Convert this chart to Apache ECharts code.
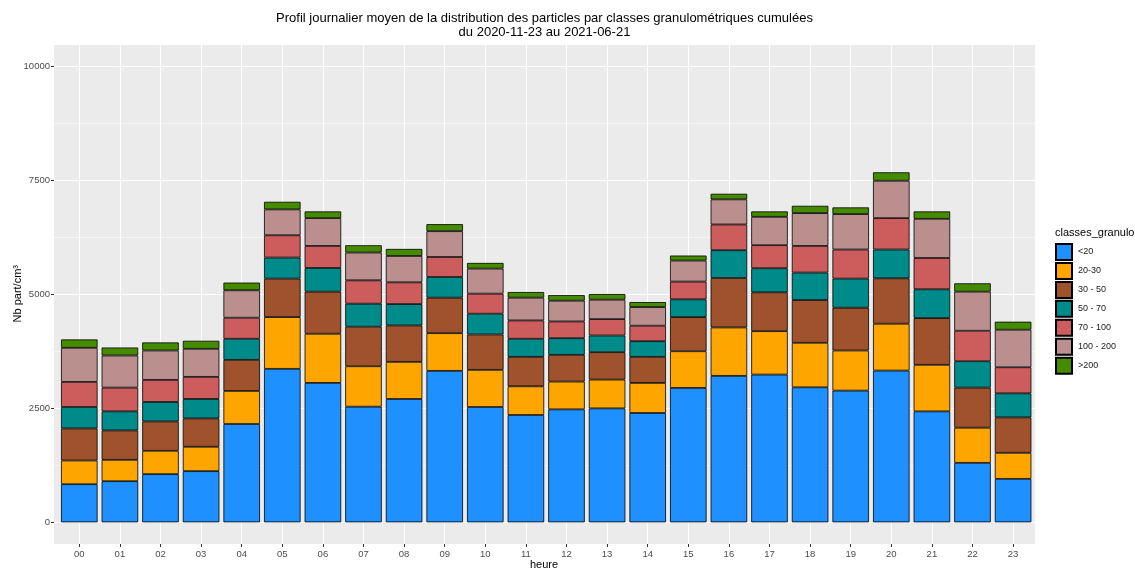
<!DOCTYPE html>
<html>
<head>
<meta charset="utf-8">
<script src="https://cdn.jsdelivr.net/npm/echarts@6/dist/echarts.min.js"></script>
<style>html,body{margin:0;padding:0;background:#fff}#c{width:1135px;height:569px}</style>
</head>
<body>
<div id="c"></div>
<script>
const hours = ['00','01','02','03','04','05','06','07','08','09','10','11','12','13','14','15','16','17','18','19','20','21','22','23'];
const classes = ['<20','20-30','30 - 50','50 - 70','70 - 100','100 - 200','>200'];
const colors = ['#1E90FF','#FFA500','#A0522D','#008B8B','#CD5C5C','#BC8F8F','#458B00'];
const yTicks = [0, 2500, 5000, 7500, 10000];

const lt20    = [835, 901, 1055, 1121, 2154, 3363, 3055, 2534, 2703, 3319, 2527, 2352, 2475, 2497, 2396, 2945, 3209, 3237, 2958, 2886, 3325, 2431, 1303, 952];
const c20_30  = [519, 468, 512, 534, 725, 1134, 1077, 886, 813, 826, 814, 628, 609, 630, 659, 804, 1061, 952, 976, 879, 1027, 1020, 770, 571];
const c30_50  = [703, 644, 644, 622, 681, 844, 923, 866, 798, 778, 775, 646, 586, 601, 571, 748, 1084, 851, 936, 938, 995, 1024, 879, 776];
const c50_70  = [470, 418, 426, 426, 462, 461, 519, 505, 468, 453, 455, 396, 365, 366, 343, 389, 609, 527, 603, 638, 631, 631, 578, 527];
const c70_100 = [550, 521, 484, 484, 461, 488, 483, 512, 477, 439, 440, 402, 367, 359, 339, 389, 564, 506, 584, 637, 688, 687, 668, 572];
const c100_200= [747, 703, 644, 615, 601, 567, 609, 609, 578, 565, 549, 499, 455, 426, 409, 461, 550, 622, 719, 776, 820, 858, 857, 822];
const gt200   = [183, 176, 176, 176, 169, 167, 147, 160, 154, 154, 124, 123, 123, 123, 109, 110, 123, 118, 160, 147, 184, 162, 182, 176];
const seriesValues = [lt20, c20_30, c30_50, c50_70, c70_100, c100_200, gt200];

const FONT = "'Liberation Sans', Arial, sans-serif";
const W = 1135, H = 569;
const panel = {l: 54, r: 1035, t: 45, b: 544};
const yZero = 522.3, yTop = 66;
const c0 = 79.3, cStep = 40.6;

const chart = echarts.init(document.getElementById('c'), null, {renderer: 'canvas'});

const series = classes.map((name, i) => ({
  name: name,
  type: 'bar',
  stack: 'total',
  xAxisIndex: 2,
  yAxisIndex: 3,
  barWidth: '90%',
  data: seriesValues[i],
  itemStyle: {color: colors[i], borderColor: '#000', borderWidth: 0.8},
  emphasis: {disabled: true},
  z: 3
}));

chart.setOption({
  animation: false,
  backgroundColor: '#fff',
  textStyle: {fontFamily: FONT},
  title: [
    {
      text: 'Profil journalier moyen de la distribution des particles par classes granulométriques cumulées\ndu 2020-11-23 au 2021-06-21',
      left: (panel.l + panel.r) / 2,
      textAlign: 'center',
      top: 11,
      padding: 0,
      textStyle: {fontSize: 13, fontWeight: 'normal', color: '#000', lineHeight: 14, fontFamily: FONT, align: 'center'}
    },
    {
      text: 'classes_granulo',
      left: 1055,
      top: 227,
      padding: 0,
      textStyle: {fontSize: 11, fontWeight: 'normal', color: '#000', fontFamily: FONT}
    }
  ],
  graphic: [
    {type: 'rect', shape: {x: panel.l, y: panel.t, width: panel.r - panel.l, height: panel.b - panel.t},
     style: {fill: '#EBEBEB'}, z: -100, silent: true},
    {type: 'text', left: 530, top: 559, style: {text: 'heure', font: '11px ' + FONT, fill: '#000'}, silent: true},
    {type: 'text', left: 12, top: 265, rotation: Math.PI/2, style: {text: 'Nb part/cm³', font: '11px ' + FONT, fill: '#000'}, silent: true}
  ],
  legend: {
    orient: 'vertical',
    left: 1055,
    top: 243,
    padding: 0,
    itemWidth: 16,
    itemHeight: 16,
    itemGap: 0.95,
    icon: 'rect',
    selectedMode: false,
    data: classes,
    textStyle: {fontSize: 9, color: '#1A1A1A', fontFamily: FONT, padding: [0,0,0,1]}
  },
  grid: [
    {left: panel.l, right: W - panel.r, top: yTop, bottom: H - yZero, containLabel: false},
    {left: c0, right: W - (c0 + 23 * cStep), top: panel.t, bottom: H - panel.b, containLabel: false},
    {left: c0 - cStep/2, right: W - (c0 + 23 * cStep + cStep/2), top: yTop, bottom: H - yZero, containLabel: false}
  ],
  xAxis: [
    {gridIndex: 0, type: 'value', min: 0, max: 1, show: false},
    {gridIndex: 1, type: 'value', min: 0, max: hours.length - 1, interval: 1,
     axisLine: {show: false},
     axisTick: {show: true, length: 3, lineStyle: {color: '#333', width: 1}},
     axisLabel: {show: true, margin: 5, fontSize: 9.5, color: '#4D4D4D', fontFamily: FONT,
                 formatter: v => hours[Math.round(v)] || ''},
     splitLine: {show: true, lineStyle: {color: '#fff', width: 1.1}}},
    {gridIndex: 2, type: 'category', data: hours, show: false}
  ],
  yAxis: [
    {gridIndex: 0, type: 'value', min: yTicks[0], max: yTicks[yTicks.length-1], interval: 2500,
     axisLine: {show: false},
     axisTick: {show: true, length: 3, lineStyle: {color: '#333', width: 1}},
     axisLabel: {show: true, margin: 4, fontSize: 9.5, color: '#4D4D4D', fontFamily: FONT,
                 formatter: v => String(v)},
     splitLine: {show: true, lineStyle: {color: '#fff', width: 1.1}}, z: 1},
    {gridIndex: 0, type: 'value', min: 0, max: 10000, interval: 1250, show: true,
     axisLine: {show: false}, axisTick: {show: false}, axisLabel: {show: false},
     splitLine: {show: true, lineStyle: {color: '#fff', width: 0.5}}, z: 0},
    {gridIndex: 1, type: 'value', min: 0, max: 1, show: false},
    {gridIndex: 2, type: 'value', min: 0, max: 10000, show: false}
  ],
  series: series
});
</script>
</body>
</html>
